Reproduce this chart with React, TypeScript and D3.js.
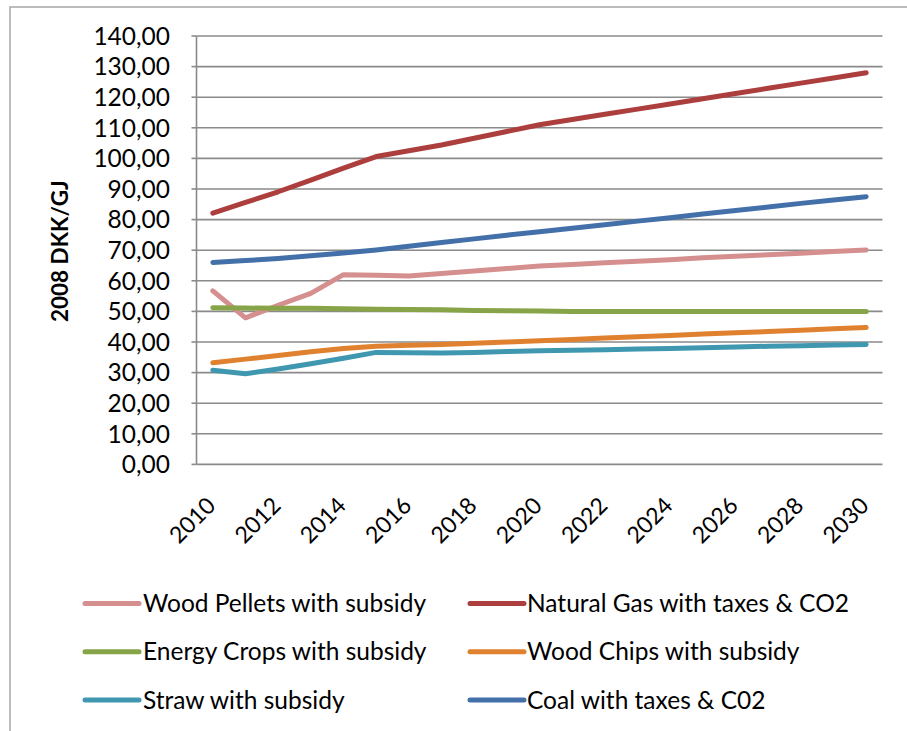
import React from "react";
import * as d3 from "d3";

const years = [2010, 2011, 2012, 2013, 2014, 2015, 2016, 2017, 2018, 2019, 2020, 2021, 2022, 2023, 2024, 2025, 2026, 2027, 2028, 2029, 2030];
const yearLabels = [2010, 2012, 2014, 2016, 2018, 2020, 2022, 2024, 2026, 2028, 2030];
const yTicks = [0, 10, 20, 30, 40, 50, 60, 70, 80, 90, 100, 110, 120, 130, 140];

const woodPellets = [56.7, 47.9, 52.0, 55.9, 62.0, 61.8, 61.6, 62.4, 63.2, 64.0, 64.8, 65.3, 65.9, 66.4, 66.9, 67.5, 68.0, 68.5, 69.0, 69.6, 70.1];
const naturalGas = [82.1, 85.6, 89.1, 92.9, 96.8, 100.6, 102.5, 104.4, 106.6, 108.8, 111.0, 112.7, 114.4, 116.1, 117.8, 119.5, 121.2, 122.9, 124.6, 126.3, 128.0];
const energyCrops = [51.2, 51.1, 51.0, 51.0, 50.9, 50.7, 50.6, 50.5, 50.3, 50.2, 50.1, 50.0, 50.0, 50.0, 50.0, 50.0, 50.0, 50.0, 50.0, 50.0, 50.0];
const woodChips = [33.2, 34.4, 35.6, 36.8, 37.9, 38.6, 38.9, 39.2, 39.6, 40.0, 40.4, 40.8, 41.3, 41.7, 42.1, 42.6, 43.0, 43.4, 43.8, 44.3, 44.7];
const straw = [30.8, 29.6, 31.2, 32.9, 34.7, 36.6, 36.5, 36.4, 36.6, 36.9, 37.1, 37.3, 37.5, 37.7, 37.9, 38.1, 38.4, 38.6, 38.8, 39.0, 39.2];
const coal = [66.0, 66.6, 67.3, 68.2, 69.1, 70.1, 71.3, 72.5, 73.7, 74.9, 76.0, 77.2, 78.3, 79.5, 80.6, 81.8, 83.0, 84.1, 85.3, 86.4, 87.5];

const seriesNames = [
  "Wood Pellets with subsidy",
  "Natural Gas with taxes & CO2",
  "Energy Crops with subsidy",
  "Wood Chips with subsidy",
  "Straw with subsidy",
  "Coal with taxes & C02",
];
const seriesValues = [woodPellets, naturalGas, energyCrops, woodChips, straw, coal];
const seriesColors = ["#D48F8E", "#AC3F3D", "#87A548", "#E0812F", "#3F98B0", "#4470AA"];

const FONT = "Lato, 'Open Sans', sans-serif";

export default function App() {
  const W = 907;
  const H = 731;
  const left = 196.5;
  const right = 882.5;
  const top = 36;
  const bottom = 464.4;

  const x = d3.scalePoint<number>().domain(years).range([left, right]).padding(0.5);
  const y = d3.scaleLinear().domain([0, 140]).range([bottom, top]);
  const fmt = (v: number) => d3.format(".2f")(v).replace(".", ",");

  const line = d3
    .line<number>()
    .x((_, i) => x(years[i]) as number)
    .y((d) => y(d));

  const legendRows = [603.5, 651.7, 700];
  const legendCols = [
    { lx: 85, tx: 143 },
    { lx: 470, tx: 527 },
  ];

  return (
    <svg
      width={W}
      height={H}
      style={{ position: "fixed", left: 0, top: 0, background: "#fff" }}
      fontFamily={FONT}
    >
      <rect x={0} y={0} width={W} height={H} fill="#fff" />
      {/* outer chart frame (cropped) */}
      <rect x={10} y={7} width={W + 40} height={H + 40} fill="none" stroke="#a6a6a6" strokeWidth={1.5} />

      {/* gridlines */}
      {yTicks.map((t) => (
        <line key={"g" + t} x1={left} x2={right} y1={y(t)} y2={y(t)} stroke="#8a8a8a" strokeWidth={1.6} />
      ))}
      {/* y axis */}
      <line x1={left} x2={left} y1={top} y2={bottom} stroke="#8a8a8a" strokeWidth={1.6} />
      {yTicks.map((t) => (
        <line key={"t" + t} x1={left - 5} x2={left} y1={y(t)} y2={y(t)} stroke="#8a8a8a" strokeWidth={1.6} />
      ))}
      {yTicks.map((t) => (
        <text key={"l" + t} x={170} y={y(t)} dy="0.36em" textAnchor="end" fontSize={24.5} fill="#000">
          {fmt(t)}
        </text>
      ))}

      {/* y title */}
      <text
        transform={`translate(68, ${(top + bottom) / 2 + 1}) rotate(-90)`}
        textAnchor="middle"
        fontSize={22.5}
        fontWeight="bold"
        fill="#000"
      >
        2008 DKK/GJ
      </text>

      {/* x labels */}
      {yearLabels.map((yr) => (
        <text
          key={"x" + yr}
          transform={`translate(${(x(yr) as number) + 4}, 507) rotate(-45)`}
          textAnchor="end"
          fontSize={23}
          fill="#000"
        >
          {yr}
        </text>
      ))}

      {/* series lines */}
      {seriesValues.map((vals, i) => (
        <path
          key={"s" + i}
          d={line(vals) as string}
          fill="none"
          stroke={seriesColors[i]}
          strokeWidth={5}
          strokeLinecap="round"
          strokeLinejoin="round"
        />
      ))}

      {/* legend */}
      {seriesNames.map((name, i) => {
        const row = Math.floor(i / 2);
        const col = legendCols[i % 2];
        const ly = legendRows[row];
        return (
          <g key={"lg" + i}>
            <line
              x1={col.lx}
              x2={col.lx + 54}
              y1={ly}
              y2={ly}
              stroke={seriesColors[i]}
              strokeWidth={5}
              strokeLinecap="round"
            />
            <text x={col.tx} y={ly + 8.5} fontSize={24.5} fill="#000">
              {name}
            </text>
          </g>
        );
      })}
    </svg>
  );
}
